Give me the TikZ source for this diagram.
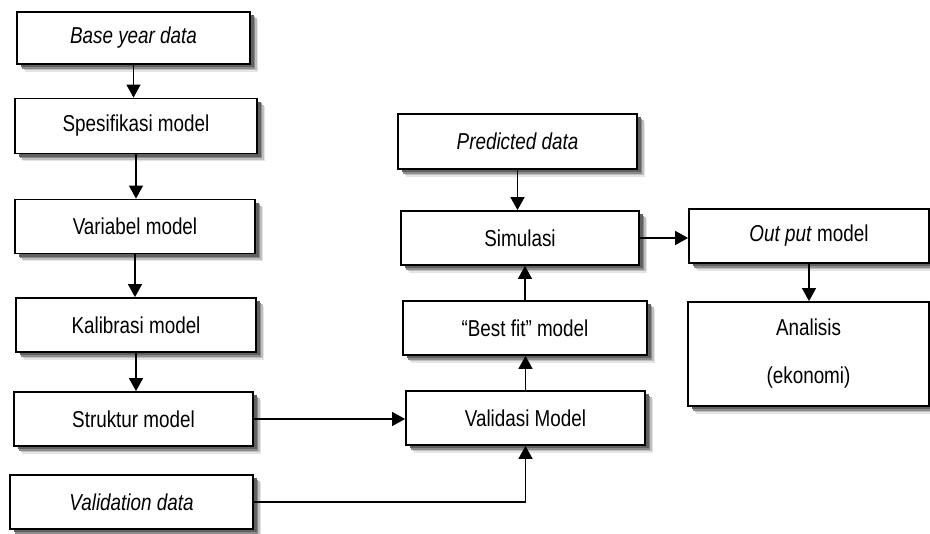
\documentclass[tikz,border=0pt]{standalone}
\usepackage{fontspec}
\setmainfont{Liberation Sans}[FakeStretch=0.82]
\usetikzlibrary{arrows.meta,shadows}
\begin{document}
\begin{tikzpicture}[x=1pt,y=-1pt,
  box/.style={draw=black,line width=1.8pt,fill=white,rectangle,inner sep=0pt,
    minimum height=54pt,align=center,font=\fontsize{23}{27}\selectfont,
    drop shadow={shadow xshift=8pt,shadow yshift=-8pt,fill=black!10,opacity=1},
    drop shadow={shadow xshift=6.5pt,shadow yshift=-6.5pt,fill=black!25,opacity=1},
    drop shadow={shadow xshift=5pt,shadow yshift=-5pt,fill=black!45,opacity=1},
    drop shadow={shadow xshift=3.5pt,shadow yshift=-3.5pt,fill=black!62,opacity=1}},
  arr/.style={line width=1.4pt,-{Triangle[length=13pt,width=14pt]}}]
\useasboundingbox (0,0) rectangle (930,534);
\fill[white] (0,0) rectangle (930,534);
% left column
\node[box,minimum width=233pt,minimum height=52pt] (base) at (133.5,38) {\textit{Base year data}};
\node[box,minimum width=242pt,minimum height=55pt] (spes) at (136,126) {Spesifikasi model};
\node[box,minimum width=240pt] (var) at (135,226.5) {Variabel model};
\node[box,minimum width=240pt] (kal) at (136,325) {Kalibrasi model};
\node[box,minimum width=239pt] (str) at (133.5,419) {Struktur model};
\node[box,minimum width=243pt] (vald) at (131.5,502) {\textit{Validation data}};
% middle column
\node[box,minimum width=239pt,minimum height=55pt] (pred) at (517.5,141.5) {\textit{Predicted data}};
\node[box,minimum width=238pt] (sim) at (520,238) {Simulasi};
\node[box,minimum width=244pt] (best) at (525,328) {“Best fit” model};
\node[box,minimum width=239pt] (valm) at (525.5,418) {Validasi Model};
% right column
\node[box,minimum width=240pt] (out) at (809,236) {\textit{Out put} model};
\node[box,minimum width=241pt,minimum height=104pt,font=\fontsize{23}{48}\selectfont] (ana) at (808.5,354) {Analisis\\(ekonomi)};
% connectors
\draw[arr] (base.south) -- (base.south |- spes.north);
\draw[arr] (spes.south) -- (spes.south |- var.north);
\draw[arr] (var.south) -- (var.south |- kal.north);
\draw[arr] (kal.south) -- (kal.south |- str.north);
\draw[arr] (str.east) -- (str.east -| valm.west);
\draw[arr] (vald.east) -| (valm.south);
\draw[arr] (valm.north) -- (valm.north |- best.south);
\draw[arr] (best.north) -- (best.north |- sim.south);
\draw[arr] (pred.south) -- (pred.south |- sim.north);
\draw[arr] (sim.east) -- (sim.east -| out.west);
\draw[arr] (out.south) -- (out.south |- ana.north);
\end{tikzpicture}
\end{document}
